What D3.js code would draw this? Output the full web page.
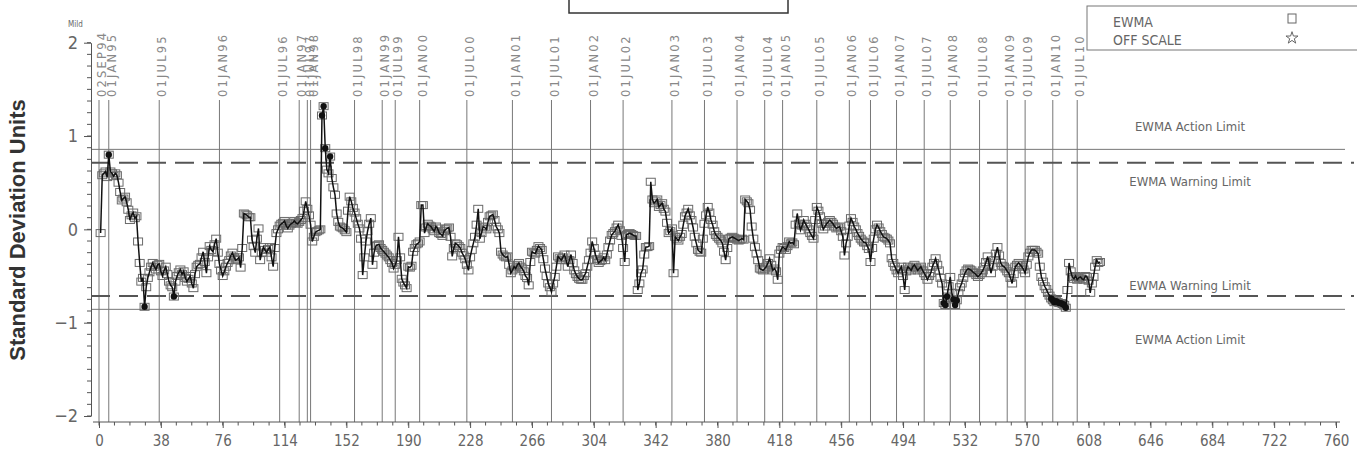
<!DOCTYPE html>
<html>
<head>
<meta charset="utf-8">
<script src="https://cdn.jsdelivr.net/npm/d3@7"></script>
<style>
    body { margin: 0; background: #fff; }
    svg { display: block; }
    .cond { font-family: "Liberation Sans Narrow", "DejaVu Sans Condensed", "DejaVu Sans", sans-serif; font-stretch: condensed; }
</style>
</head>
<body>
<svg id="chart" width="1357" height="455"></svg>
<script>
// EWMA values, one per sample (sample 1 .. 615)
const ewma = [
    -0.04, 0.58, 0.60, 0.62, 0.56, 0.80, 0.62, 0.60, 0.57, 0.60,
    0.58, 0.50, 0.40, 0.31, 0.33, 0.35, 0.29, 0.21, 0.10, 0.15,
    0.18, 0.12, 0.14, -0.13, -0.36, -0.56, -0.52, -0.83, -0.62, -0.52,
    -0.46, -0.40, -0.36, -0.40, -0.43, -0.38, -0.37, -0.45, -0.50, -0.44,
    -0.40, -0.48, -0.56, -0.60, -0.62, -0.72, -0.56, -0.50, -0.46, -0.43,
    -0.48, -0.45, -0.52, -0.56, -0.53, -0.50, -0.58, -0.63, -0.48, -0.40,
    -0.38, -0.37, -0.30, -0.24, -0.35, -0.47, -0.30, -0.18, -0.22, -0.24,
    -0.16, -0.10, -0.25, -0.37, -0.44, -0.50, -0.45, -0.40, -0.36, -0.33,
    -0.28, -0.25, -0.30, -0.33, -0.32, -0.30, -0.41, -0.20, 0.17, 0.16,
    0.15, 0.13, 0.13, -0.11, -0.18, -0.25, -0.10, 0.01, -0.33, -0.25,
    -0.19, -0.22, -0.25, -0.21, -0.19, -0.30, -0.40, -0.20, -0.04, 0.00,
    0.04, 0.06, 0.07, 0.09, 0.04, 0.01, 0.04, 0.06, 0.07, 0.09,
    0.07, 0.06, 0.08, 0.10, 0.12, 0.20, 0.30, 0.22, 0.15, 0.05,
    -0.13, -0.08, -0.03, -0.02, -0.01, 0.00, 1.22, 1.32, 0.87, 0.64,
    0.60, 0.78, 0.55, 0.45, 0.37, 0.17, 0.08, 0.03, 0.02, 0.01,
    -0.01, -0.03, 0.20, 0.35, 0.30, 0.23, 0.18, 0.12, 0.06, 0.01,
    -0.10, -0.49, -0.30, -0.13, -0.02, 0.06, 0.12, -0.38, -0.25, -0.18,
    -0.17, -0.16, -0.20, -0.22, -0.24, -0.26, -0.28, -0.30, -0.33, -0.36,
    -0.42, -0.38, -0.33, -0.08, -0.30, -0.53, -0.57, -0.60, -0.63, -0.40,
    -0.41, -0.39, -0.24, -0.20, -0.16, -0.15, -0.13, 0.26, 0.26, -0.04,
    0.02, 0.06, 0.04, 0.03, 0.00, -0.02, 0.03, 0.01, -0.04, -0.05,
    -0.07, -0.02, 0.00, 0.01, 0.02, -0.08, -0.29, -0.20, -0.15, -0.16,
    -0.18, -0.20, -0.25, -0.28, -0.32, -0.38, -0.44, -0.30, -0.22, -0.15,
    -0.08, 0.05, 0.22, -0.10, -0.04, 0.03, 0.02, 0.00, 0.08, 0.14,
    0.15, 0.16, 0.10, 0.03, 0.00, -0.04, -0.24, -0.27, -0.29, -0.30,
    -0.29, -0.38, -0.47, -0.44, -0.40, -0.42, -0.38, -0.36, -0.40, -0.42,
    -0.45, -0.50, -0.52, -0.60, -0.35, -0.24, -0.25, -0.26, -0.22, -0.18,
    -0.20, -0.22, -0.32, -0.42, -0.50, -0.58, -0.62, -0.67, -0.58, -0.51,
    -0.40, -0.29, -0.31, -0.33, -0.30, -0.27, -0.33, -0.40, -0.33, -0.27,
    -0.36, -0.44, -0.48, -0.51, -0.53, -0.54, -0.54, -0.50, -0.47, -0.40,
    -0.33, -0.25, -0.13, -0.20, -0.27, -0.32, -0.36, -0.34, -0.33, -0.30,
    -0.33, -0.27, -0.19, -0.12, -0.06, -0.04, -0.02, 0.02, 0.05, -0.01,
    -0.07, -0.20, -0.35, -0.06, -0.05, -0.04, -0.05, -0.06, -0.07, -0.07,
    -0.65, -0.58, -0.47, -0.43, -0.27, -0.19, -0.19, -0.18, 0.51, 0.32,
    0.28, 0.30, 0.32, 0.24, 0.26, 0.28, 0.22, 0.19, 0.07, -0.04,
    -0.02, 0.01, -0.47, -0.08, -0.10, -0.12, -0.08, -0.05, 0.05, 0.14,
    0.18, 0.22, 0.15, 0.10, 0.02, -0.08, -0.15, -0.22, -0.24, -0.25,
    -0.10, 0.06, 0.15, 0.24, 0.18, 0.10, 0.05, -0.02, -0.06, -0.08,
    -0.10, -0.12, -0.15, -0.24, -0.33, -0.20, -0.10, -0.09, -0.08, -0.09,
    -0.10, -0.11, -0.12, -0.11, -0.10, -0.11, 0.32, 0.30, 0.28, 0.21,
    0.03, -0.10, -0.19, -0.26, -0.33, -0.42, -0.43, -0.44, -0.42, -0.40,
    -0.36, -0.31, -0.38, -0.44, -0.42, -0.45, -0.54, -0.26, -0.22, -0.19,
    -0.20, -0.22, -0.18, -0.13, -0.15, -0.14, -0.16, 0.05, 0.17, 0.06,
    -0.01, 0.04, 0.10, 0.06, 0.03, 0.00, -0.04, -0.07, -0.10, 0.10,
    0.24, 0.20, 0.14, 0.06, 0.00, 0.03, 0.06, 0.08, 0.10, 0.08,
    0.06, 0.03, 0.01, 0.02, 0.03, -0.02, -0.08, -0.28, -0.15, -0.08,
    0.04, 0.12, 0.08, 0.03, 0.00, -0.04, -0.07, -0.10, -0.12, -0.14,
    -0.14, -0.18, -0.21, -0.35, -0.20, -0.10, 0.00, 0.05, 0.02, -0.02,
    -0.05, -0.08, -0.09, -0.10, -0.12, -0.15, -0.31, -0.36, -0.40, -0.44,
    -0.47, -0.43, -0.40, -0.50, -0.65, -0.45, -0.40, -0.42, -0.44, -0.40,
    -0.38, -0.41, -0.44, -0.42, -0.40, -0.44, -0.47, -0.50, -0.54, -0.50,
    -0.47, -0.40, -0.36, -0.31, -0.38, -0.44, -0.52, -0.58, -0.79, -0.81,
    -0.72, -0.61, -0.51, -0.68, -0.75, -0.81, -0.76, -0.68, -0.62, -0.58,
    -0.52, -0.47, -0.44, -0.42, -0.43, -0.44, -0.46, -0.47, -0.49, -0.51,
    -0.49, -0.47, -0.44, -0.40, -0.35, -0.29, -0.38, -0.47, -0.40, -0.33,
    -0.26, -0.19, -0.28, -0.36, -0.39, -0.40, -0.42, -0.45, -0.47, -0.52,
    -0.58, -0.48, -0.40, -0.38, -0.36, -0.38, -0.40, -0.43, -0.47, -0.38,
    -0.29, -0.25, -0.22, -0.22, -0.22, -0.24, -0.26, -0.40, -0.51, -0.56,
    -0.61, -0.64, -0.68, -0.71, -0.74, -0.76, -0.78, -0.77, -0.78, -0.79,
    -0.79, -0.80, -0.81, -0.84, -0.65, -0.36, -0.45, -0.51, -0.53, -0.50,
    -0.54, -0.52, -0.51, -0.53, -0.54, -0.50, -0.51, -0.55, -0.68, -0.58,
    -0.51, -0.40, -0.33, -0.36, -0.35
];

// reference dates and the sample number where each falls
const dateLabels = ["02SEP94", "01JAN95", "01JUL95", "01JAN96", "01JUL96", "01JAN97", "01JUL97", "01JAN98",
    "01JUL98", "01JAN99", "01JUL99", "01JAN00", "01JUL00", "01JAN01", "01JUL01", "01JAN02", "01JUL02",
    "01JAN03", "01JUL03", "01JAN04", "01JUL04", "01JAN05", "01JUL05", "01JAN06", "01JUL06", "01JAN07",
    "01JUL07", "01JAN08", "01JUL08", "01JAN09", "01JUL09", "01JAN10", "01JUL10"];
const dateSample = [0, 6, 37, 74, 111, 123, 128, 130, 157, 174, 182, 197, 226, 254, 278, 302, 322,
    352, 372, 392, 409, 420, 441, 461, 474, 490, 507, 523, 541, 558, 569, 586, 601];

const xTickLabels = [0, 38, 76, 114, 152, 190, 228, 266, 304, 342, 380, 418, 456, 494, 532, 570, 608, 646, 684, 722, 760];
const yTickLabels = [-2, -1, 0, 1, 2];

const actionLimit = 0.857;
const warningLimit = 0.714;
const legendLabels = ["EWMA", "OFF SCALE"];

const svg = d3.select("#chart");
const axisColor = "#555";
const textColor = "#666";

const x = d3.scaleLinear().domain([0, 760]).range([99, 1336]);
const y = d3.scaleLinear().domain([-2, 2]).range([416, 42.7]);
const xAxisY = 422;
const yAxisX = 91;

// Title box, mostly off the top of the page
svg.append("rect")
    .attr("x", 569).attr("y", -20)
    .attr("width", 219).attr("height", 33)
    .attr("fill", "none").attr("stroke", "#333").attr("stroke-width", 1.5);

// Reference date lines
svg.append("g").selectAll("line")
    .data(dateSample)
    .enter().append("line")
    .attr("x1", d => x(d)).attr("x2", d => x(d))
    .attr("y1", 100).attr("y2", xAxisY)
    .attr("stroke", "#777").attr("stroke-width", 1);

svg.append("g").selectAll("text")
    .data(dateLabels)
    .enter().append("text")
    .attr("transform", (d, i) => `translate(${x(dateSample[i]) + 3},97) rotate(-90)`)
    .attr("dy", "0.36em")
    .attr("font-family", "DejaVu Sans, sans-serif")
    .attr("font-size", 11.5)
    .attr("letter-spacing", 2.2)
    .attr("fill", "#888")
    .text(d => d);

// Limits
const limitG = svg.append("g");
[actionLimit, -actionLimit].forEach(v => {
    limitG.append("line")
        .attr("x1", yAxisX).attr("x2", 1345)
        .attr("y1", y(v)).attr("y2", y(v))
        .attr("stroke", "#777").attr("stroke-width", 1);
});
[warningLimit, -warningLimit].forEach(v => {
    limitG.append("line")
        .attr("x1", yAxisX).attr("x2", 1354)
        .attr("y1", y(v)).attr("y2", y(v))
        .attr("stroke", "#555").attr("stroke-width", 2)
        .attr("stroke-dasharray", "19,9");
});

const limitText = [
    {label: "EWMA Action Limit", v: actionLimit, dy: -22},
    {label: "EWMA Warning Limit", v: warningLimit, dy: 20},
    {label: "EWMA Warning Limit", v: -warningLimit, dy: -9},
    {label: "EWMA Action Limit", v: -actionLimit, dy: 31}
];
svg.append("g").selectAll("text")
    .data(limitText)
    .enter().append("text")
    .attr("class", "cond")
    .attr("x", 1190)
    .attr("y", d => y(d.v) + d.dy)
    .attr("text-anchor", "middle")
    .attr("dominant-baseline", "middle")
    .attr("font-size", 13)
    .attr("fill", textColor)
    .text(d => d.label);

// Data
const points = ewma.map((v, i) => ({sample: i + 1, v: v}));

svg.append("g").selectAll("rect")
    .data(points)
    .enter().append("rect")
    .attr("x", d => x(d.sample) - 4.5)
    .attr("y", d => y(d.v) - 3.5)
    .attr("width", 9).attr("height", 7)
    .attr("fill", "none")
    .attr("stroke", "#6a6a6a").attr("stroke-width", 1);

svg.append("path")
    .datum(points)
    .attr("fill", "none")
    .attr("stroke", "#111")
    .attr("stroke-width", 1.5)
    .attr("d", d3.line().x(d => x(d.sample)).y(d => y(d.v)));

svg.append("g").selectAll("circle")
    .data(points.filter(d => Math.abs(d.v) > warningLimit))
    .enter().append("circle")
    .attr("cx", d => x(d.sample))
    .attr("cy", d => y(d.v))
    .attr("r", 3.2)
    .attr("fill", "#111");

// X axis
const xAxisG = svg.append("g")
    .attr("transform", `translate(0,${xAxisY})`)
    .call(d3.axisBottom(x).tickValues(xTickLabels).tickSize(6).tickSizeOuter(0).tickPadding(7));
xAxisG.select(".domain").remove();
xAxisG.append("line")
    .attr("x1", 93).attr("x2", 1340)
    .attr("stroke", axisColor);
xAxisG.selectAll(".minor")
    .data(d3.range(0, 761, 9.5))
    .enter().append("line")
    .attr("x1", d => x(d)).attr("x2", d => x(d))
    .attr("y2", 3.5)
    .attr("stroke", axisColor);
xAxisG.selectAll(".tick line").attr("stroke", axisColor);
xAxisG.selectAll(".tick text")
    .attr("class", "cond")
    .attr("font-size", 15)
    .attr("fill", textColor);

// Y axis
const yAxisG = svg.append("g")
    .attr("transform", `translate(${yAxisX},0)`)
    .call(d3.axisLeft(y).tickValues(yTickLabels).tickFormat(d3.format("d")).tickSize(7).tickSizeOuter(0).tickPadding(6));
yAxisG.select(".domain").attr("stroke", axisColor);
yAxisG.selectAll(".minor")
    .data(d3.range(-2, 2.001, 0.125))
    .enter().append("line")
    .attr("y1", d => y(d)).attr("y2", d => y(d))
    .attr("x2", -4)
    .attr("stroke", axisColor);
yAxisG.selectAll(".tick line").attr("stroke", axisColor);
yAxisG.selectAll(".tick text")
    .attr("class", "cond")
    .attr("font-size", 18)
    .attr("fill", textColor);

svg.append("text")
    .attr("class", "cond")
    .attr("x", 68).attr("y", 27)
    .attr("font-size", 8)
    .attr("fill", textColor)
    .text("Mild");

svg.append("text")
    .attr("transform", "translate(25,230) rotate(-90)")
    .attr("text-anchor", "middle")
    .attr("font-family", "Liberation Sans, Arial, sans-serif")
    .attr("font-weight", "bold")
    .attr("font-size", 22)
    .attr("fill", "#333")
    .text("Standard Deviation Units");

// Legend
const legend = svg.append("g");
legend.append("rect")
    .attr("x", 1087).attr("y", 6)
    .attr("width", 290).attr("height", 44)
    .attr("fill", "none").attr("stroke", "#777");
legend.selectAll("text")
    .data(legendLabels)
    .enter().append("text")
    .attr("class", "cond")
    .attr("x", 1113)
    .attr("y", (d, i) => 27 + i * 18)
    .attr("font-size", 14)
    .attr("fill", textColor)
    .text(d => d);
legend.append("rect")
    .attr("x", 1288).attr("y", 14)
    .attr("width", 8).attr("height", 9)
    .attr("fill", "none").attr("stroke", "#666");
legend.append("path")
    .attr("transform", "translate(1292,38)")
    .attr("d", d3.symbol().type(d3.symbolStar).size(45)())
    .attr("fill", "none").attr("stroke", "#666");
</script>
</body>
</html>
